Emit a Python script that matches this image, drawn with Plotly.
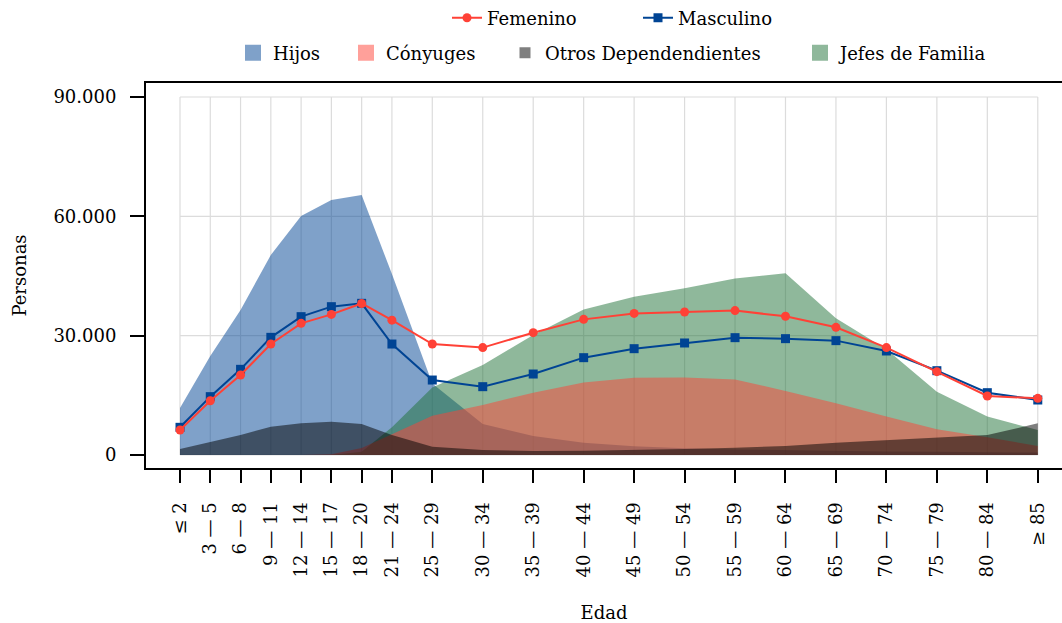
import plotly.graph_objects as go

# ---- data ----
edad_pos = [0, 3, 6, 9, 12, 15, 18, 21, 25, 30, 35, 40, 45, 50, 55, 60, 65, 70, 75, 80, 85]
edad_labels = ["≤ 2", "3 — 5", "6 — 8", "9 — 11", "12 — 14", "15 — 17", "18 — 20", "21 — 24",
               "25 — 29", "30 — 34", "35 — 39", "40 — 44", "45 — 49", "50 — 54", "55 — 59",
               "60 — 64", "65 — 69", "70 — 74", "75 — 79", "80 — 84", "≥ 85"]
femenino = [6300, 13650, 20100, 27900, 33100, 35350, 38100, 33900, 27900, 27000, 30750,
            34100, 35600, 35950, 36300, 34870, 32100, 27000, 20950, 14830, 14250]
masculino = [6960, 14670, 21540, 29580, 34780, 37290, 38130, 27900, 18850, 17180, 20360,
             24470, 26730, 28160, 29500, 29250, 28750, 26150, 21200, 15670, 13830]
hijos = [11800, 24900, 36450, 50280, 60090, 64100, 65360, 45500, 18000, 7800, 4800,
         3100, 2200, 1700, 1400, 1200, 1000, 900, 800, 700, 600]
conyuges = [0, 0, 0, 0, 0, 200, 1750, 5200, 9900, 12570, 15670, 18200, 19450, 19500,
            19000, 16100, 13000, 9650, 6450, 4440, 2260]
otros = [1500, 3350, 5030, 7120, 7960, 8380, 7800, 5030, 2100, 1260, 1000, 1100, 1250,
         1500, 1850, 2260, 3100, 3770, 4440, 5030, 7960]
jefes = [0, 0, 0, 0, 0, 0, 800, 7000, 17000, 22600, 30200, 36600, 39800, 41900, 44400,
         45700, 34400, 26600, 15900, 9650, 6300]
y_ticks = [0, 30000, 60000, 90000]
y_labels = ["0", "30.000", "60.000", "90.000"]

FONT = "DejaVu Serif"
FS = 18
RED = "#ff4136"
BLUE = "#004494"

W, H = 1062, 623
ML, MR, MT, MB = 146, 0, 83, 155
PW, PH = W - ML - MR, H - MT - MB


def px_x(px):
    return (px - ML) / PW


def px_y(py):
    return (H - MB - py) / PH


fig = go.Figure()
legends = {}


def add_legend(key, text_left, center_y):
    legends[key] = dict(orientation="h", x=px_x(text_left - 40), xanchor="left",
                        y=px_y(center_y), yanchor="middle", font=dict(size=FS),
                        bgcolor="rgba(0,0,0,0)", itemsizing="trace")


def area(name, vals, color):
    fig.add_trace(go.Scatter(x=edad_pos, y=vals, name=name, mode="lines",
                             line=dict(width=0, color=color), fill="tozeroy",
                             fillcolor=color, showlegend=False, hoverinfo="skip"))


def area_key(name, color, size, key):
    fig.add_trace(go.Scatter(x=[None], y=[None], name=name, mode="markers",
                             marker=dict(symbol="square", size=size, color=color),
                             legend=key, showlegend=True))


# draw order: Hijos, Jefes, Cónyuges, Otros
area("Hijos", hijos, "rgba(0,68,148,0.5)")
area("Jefes de Familia", jefes, "rgba(31,113,55,0.5)")
area("Cónyuges", conyuges, "rgba(255,65,54,0.5)")
area("Otros Dependendientes", otros, "rgba(0,0,0,0.5)")

fig.add_trace(go.Scatter(x=edad_pos, y=masculino, name="Masculino", mode="lines+markers",
                         line=dict(color=BLUE, width=2),
                         marker=dict(symbol="square", size=9, color=BLUE),
                         legend="legend2"))
fig.add_trace(go.Scatter(x=edad_pos, y=femenino, name="Femenino", mode="lines+markers",
                         line=dict(color=RED, width=2),
                         marker=dict(symbol="circle", size=9, color=RED),
                         legend="legend"))

area_key("Hijos", "rgba(0,68,148,0.5)", 32, "legend3")
area_key("Cónyuges", "rgba(255,65,54,0.5)", 16, "legend4")
area_key("Otros Dependendientes", "rgba(0,0,0,0.5)", 11, "legend5")
area_key("Jefes de Familia", "rgba(31,113,55,0.5)", 22, "legend6")

add_legend("legend", 487, 18)
add_legend("legend2", 678, 18)
add_legend("legend3", 273, 53)
add_legend("legend4", 386, 53)
add_legend("legend5", 545, 53)
add_legend("legend6", 840, 53)

# grid restricted to the data extent
grid = dict(color="#dcdcdc", width=1.2)
for xv in edad_pos:
    fig.add_shape(type="line", x0=xv, x1=xv, y0=0, y1=y_ticks[-1], xref="x", yref="y",
                  line=grid, layer="below")
for yv in y_ticks:
    fig.add_shape(type="line", x0=edad_pos[0], x1=edad_pos[-1], y0=yv, y1=yv, xref="x",
                  yref="y", line=grid, layer="below")

fig.update_layout(
    width=W, height=H,
    margin=dict(l=ML, r=MR, t=MT, b=MB, autoexpand=False),
    paper_bgcolor="white", plot_bgcolor="white",
    font=dict(family=FONT, size=FS, color="black"),
    showlegend=True,
    **legends,
)
fig.update_xaxes(range=[-3.37, 87.4], tickmode="array", tickvals=edad_pos,
                 ticktext=edad_labels, tickangle=-90, showgrid=False, zeroline=False,
                 showline=True, linecolor="black", linewidth=2, mirror=True,
                 ticks="outside", ticklen=13, tickwidth=2, tickcolor="black",
                 ticklabelstandoff=12, automargin=False,
                 title=dict(text="Edad", font=dict(size=FS), standoff=40),
                 tickfont=dict(size=FS))
fig.update_yaxes(range=[-3265, 93517], tickmode="array", tickvals=y_ticks,
                 ticktext=y_labels, showgrid=False, zeroline=False,
                 showline=True, linecolor="black", linewidth=2, mirror=False,
                 ticks="outside", ticklen=14, tickwidth=2, tickcolor="black",
                 ticklabelstandoff=10, automargin=False,
                 title=dict(text="Personas", font=dict(size=FS), standoff=22),
                 tickfont=dict(size=FS))

fig.write_html("out.html", config={"displayModeBar": False},
               post_script="document.body.style.margin='0';"
                           "document.body.style.overflow='hidden';")
